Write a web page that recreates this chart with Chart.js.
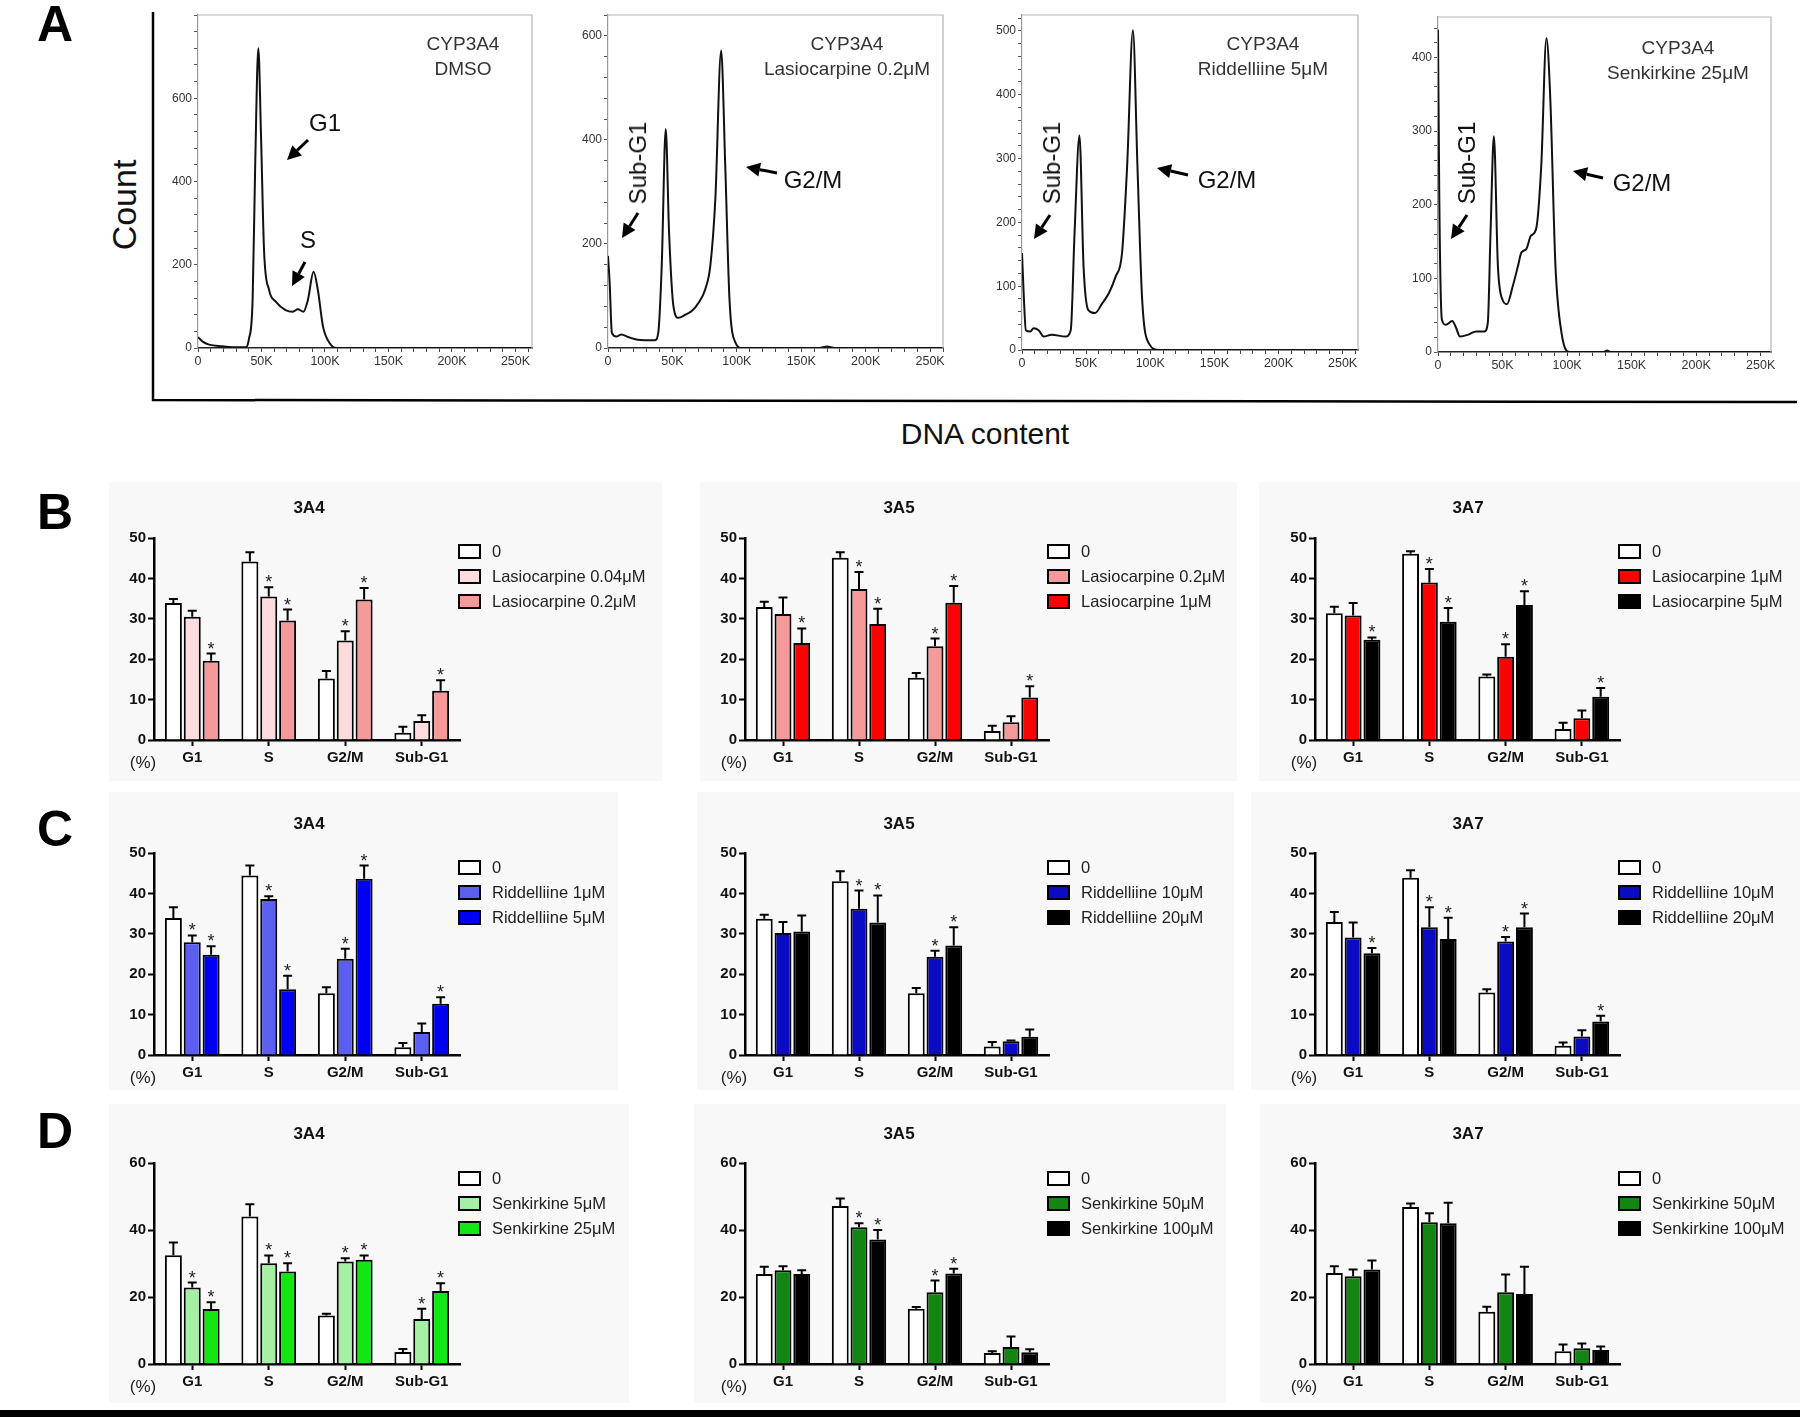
<!DOCTYPE html>
<html>
<head>
<meta charset="utf-8">
<script src="https://cdn.jsdelivr.net/npm/chart.js@4.4.0/dist/chart.umd.min.js"></script>
<style>
  body { margin: 0; background: #fff; }
  #fig { position: relative; width: 1800px; height: 1417px; overflow: hidden; font-family: Arial, "Liberation Sans", sans-serif; color: #111; }
  canvas { position: absolute; }
  .txt { position: absolute; white-space: nowrap; transform: translate(-50%, -50%); line-height: 1; }
  .bg { position: absolute; background: #f8f8f8; }
  .lbox { position: absolute; width: 19px; height: 11px; border: 2px solid #000; }
  .ltxt { position: absolute; white-space: nowrap; font-size: 16.5px; color: #222; transform: translateY(-50%); line-height: 1; }
</style>
</head>
<body>
<div id="fig">
  <div class="bg" style="left:109px;top:482px;width:553px;height:299px"></div>
  <div class="bg" style="left:700px;top:482px;width:537px;height:299px"></div>
  <div class="bg" style="left:1259px;top:482px;width:541px;height:299px"></div>
  <div class="bg" style="left:109px;top:792px;width:509px;height:298px"></div>
  <div class="bg" style="left:697px;top:792px;width:537px;height:298px"></div>
  <div class="bg" style="left:1251px;top:792px;width:549px;height:298px"></div>
  <div class="bg" style="left:109px;top:1104px;width:520px;height:299px"></div>
  <div class="bg" style="left:694px;top:1104px;width:532px;height:299px"></div>
  <div class="bg" style="left:1260px;top:1104px;width:540px;height:299px"></div>
  <svg id="overlay" width="1800" height="1417" style="position:absolute;left:0;top:0"></svg>
  <div style="position:absolute;left:0;top:1410px;width:1800px;height:7px;background:#000"></div>
</div>
<script>
// PANEL A: flow cytometry histograms (DNA content in K, count)
const dmsoK = [0, 3.4, 8.7, 19, 27, 37.7, 40, 43, 45, 47.5, 49.6, 52, 56, 61.4, 69, 74.6, 78.6, 83, 86.5, 91, 94.4, 98.4, 103.6, 109, 263];
const dmsoCount = [26, 16, 8, 4, 2, 2, 20, 115, 433, 720, 513, 235, 139, 111, 91, 87, 93, 87, 115, 183, 139, 52, 12, 0, 0];

const lasioK = [0, 1.3, 3, 6.5, 10.4, 15.6, 23, 36.5, 39, 41.7, 44.8, 47.4, 50.8, 54.7, 60, 65, 70.3, 75.5, 79.4, 83.3, 87.8, 91, 94.3, 99, 104, 164, 170, 176, 260];
const lasioCount = [177, 125, 29, 22, 26, 21, 16, 15, 29, 158, 421, 222, 80, 58, 64, 71, 87, 113, 158, 286, 572, 350, 93, 10, 0, 0, 3, 0, 0];

const riddK = [0, 1.3, 3, 6.5, 9, 13, 17, 23, 34, 38, 41, 44.8, 48, 51.6, 57, 62.5, 67.7, 73, 78, 82, 86.5, 90, 93.7, 99, 107, 262];
const riddCount = [152, 89, 31, 29, 34, 31, 21, 24, 21, 31, 184, 336, 131, 63, 58, 73, 89, 115, 152, 289, 501, 289, 79, 10, 0, 0];

const senkK = [0, 1, 3, 6, 11, 14, 17, 24, 29.6, 36, 38.6, 40.7, 43.3, 46.4, 50, 53.4, 58, 62, 64.6, 68.5, 72, 76, 80, 84, 87, 91, 95.7, 102, 128, 131, 134, 258];
const senkCount = [438, 208, 44, 37, 42, 33, 21, 24, 28, 28, 40, 162, 293, 117, 71, 65, 90, 117, 135, 140, 158, 167, 253, 426, 344, 117, 26, 0, 0, 2, 0, 0];

// PANELS B-D: cell cycle phase (%), series order = [0, low dose, high dose]
const phases = ["G1", "S", "G2/M", "Sub-G1"];

const lasio3A4Mean = [[33.9, 44.2, 15.2, 1.8], [30.5, 35.5, 24.6, 4.7], [19.6, 29.6, 34.8, 12.2]];
const lasio3A4Err  = [[1.0, 2.3, 1.9, 1.5], [1.5, 2.3, 2.3, 1.4], [1.8, 2.7, 2.8, 2.6]];
const lasio3A4Sig  = [[0, 0, 0, 0], [0, 1, 1, 0], [1, 1, 1, 1]];
const lasio3A4Labels = ["0", "Lasiocarpine 0.04μM", "Lasiocarpine 0.2μM"];

const lasio3A5Mean = [[32.9, 45.1, 15.4, 2.2], [31.2, 37.4, 23.2, 4.4], [24.0, 28.7, 34.0, 10.5]];
const lasio3A5Err  = [[1.3, 1.4, 1.2, 1.3], [4.1, 4.2, 1.9, 1.5], [3.6, 3.8, 4.1, 2.8]];
const lasio3A5Sig  = [[0, 0, 0, 0], [0, 1, 1, 0], [1, 1, 1, 1]];
const lasio3A5Labels = ["0", "Lasiocarpine 0.2μM", "Lasiocarpine 1μM"];

const lasio3A7Mean = [[31.4, 46.1, 15.7, 2.7], [30.8, 39.0, 20.6, 5.4], [24.8, 29.3, 33.4, 10.7]];
const lasio3A7Err  = [[1.6, 0.6, 0.5, 1.6], [3.1, 3.3, 3.1, 1.9], [0.6, 3.4, 3.4, 2.2]];
const lasio3A7Sig  = [[0, 0, 0, 0], [0, 1, 1, 0], [1, 1, 1, 1]];
const lasio3A7Labels = ["0", "Lasiocarpine 1μM", "Lasiocarpine 5μM"];

const ridd3A4Mean = [[33.9, 44.4, 15.3, 1.9], [27.9, 38.6, 23.8, 5.7], [24.8, 16.3, 43.6, 12.7]];
const ridd3A4Err  = [[2.7, 2.5, 1.5, 1.1], [1.7, 0.7, 2.5, 2.1], [2.1, 3.3, 3.3, 1.6]];
const ridd3A4Sig  = [[0, 0, 0, 0], [1, 1, 1, 0], [1, 1, 1, 1]];
const ridd3A4Labels = ["0", "Riddelliine 1μM", "Riddelliine 5μM"];

const ridd3A5Mean = [[33.7, 43.0, 15.3, 2.1], [30.2, 36.2, 24.3, 3.4], [30.6, 32.8, 27.1, 4.5]];
const ridd3A5Err  = [[1.0, 2.5, 1.3, 1.1], [2.7, 4.5, 1.5, 0.2], [3.9, 6.7, 4.5, 1.8]];
const ridd3A5Sig  = [[0, 0, 0, 0], [0, 1, 1, 0], [0, 1, 1, 0]];
const ridd3A5Labels = ["0", "Riddelliine 10μM", "Riddelliine 20μM"];

const ridd3A7Mean = [[32.9, 43.9, 15.5, 2.3], [29.1, 31.6, 28.1, 4.6], [25.2, 28.7, 31.6, 8.3]];
const ridd3A7Err  = [[2.5, 1.8, 0.8, 0.8], [3.7, 5.0, 1.1, 1.5], [1.3, 5.3, 3.4, 1.4]];
const ridd3A7Sig  = [[0, 0, 0, 0], [0, 1, 1, 0], [1, 1, 1, 1]];
const ridd3A7Labels = ["0", "Riddelliine 10μM", "Riddelliine 20μM"];

const senk3A4Mean = [[32.5, 44.0, 14.5, 3.6], [22.8, 30.1, 30.6, 13.4], [16.4, 27.6, 31.1, 21.8]];
const senk3A4Err  = [[3.8, 3.7, 0.5, 0.9], [1.5, 2.3, 1.0, 3.1], [2.0, 2.5, 1.3, 2.3]];
const senk3A4Sig  = [[0, 0, 0, 0], [1, 1, 1, 1], [1, 1, 1, 1]];
const senk3A4Labels = ["0", "Senkirkine 5μM", "Senkirkine 25μM"];

const senk3A5Mean = [[26.9, 47.2, 16.5, 3.3], [28.0, 40.8, 21.4, 5.1], [26.9, 37.2, 27.0, 3.5]];
const senk3A5Err  = [[2.1, 2.2, 0.5, 0.5], [1.2, 1.2, 3.5, 3.1], [1.1, 2.8, 1.4, 0.9]];
const senk3A5Sig  = [[0, 0, 0, 0], [0, 1, 1, 0], [0, 1, 1, 0]];
const senk3A5Labels = ["0", "Senkirkine 50μM", "Senkirkine 100μM"];

const senk3A7Mean = [[27.2, 46.9, 15.6, 3.8], [26.2, 42.3, 21.4, 4.7], [28.2, 42.0, 20.9, 4.2]];
const senk3A7Err  = [[2.0, 1.0, 1.5, 2.0], [2.0, 2.7, 5.3, 1.4], [2.7, 6.1, 8.1, 1.0]];
const senk3A7Sig  = [[0, 0, 0, 0], [0, 0, 0, 0], [0, 0, 0, 0]];
const senk3A7Labels = ["0", "Senkirkine 50μM", "Senkirkine 100μM"];

const fig = document.getElementById("fig");
const svg = document.getElementById("overlay");
const FONT = "Arial, 'Liberation Sans', sans-serif";

// HELPERS
function mount(area, m) {
  const c = document.createElement("canvas");
  const w = Math.round(area[2] - area[0] + m.l + m.r);
  const h = Math.round(area[3] - area[1] + m.t + m.b);
  c.width = w; c.height = h;
  c.style.left = (area[0] - m.l) + "px";
  c.style.top = (area[1] - m.t) + "px";
  c.style.width = w + "px"; c.style.height = h + "px";
  fig.appendChild(c);
  return c;
}

function addText(str, x, y, css, rotate) {
  const d = document.createElement("div");
  d.className = "txt";
  d.textContent = str;
  d.style.cssText += css;
  d.style.left = x + "px"; d.style.top = y + "px";
  if (rotate) d.style.transform = "translate(-50%,-50%) rotate(-90deg)";
  fig.appendChild(d);
}

function svgEl(tag, attrs) {
  const e = document.createElementNS("http://www.w3.org/2000/svg", tag);
  for (const k in attrs) e.setAttribute(k, attrs[k]);
  svg.appendChild(e);
}

function arrow(x1, y1, x2, y2) {
  const ang = Math.atan2(y2 - y1, x2 - x1);
  const L = 14, W = 7;
  const bx = x2 - L * Math.cos(ang), by = y2 - L * Math.sin(ang);
  svgEl("line", { x1, y1, x2: bx, y2: by, stroke: "#000", "stroke-width": 3 });
  const px = -Math.sin(ang) * W, py = Math.cos(ang) * W;
  svgEl("polygon", { points: `${x2},${y2} ${bx + px},${by + py} ${bx - px},${by - py}`, fill: "#000" });
}

const frame = {
  id: "frame",
  afterDraw(chart) {
    const { ctx, chartArea: a } = chart;
    ctx.save();
    ctx.strokeStyle = "#b5b5b5";
    ctx.lineWidth = 1.2;
    ctx.beginPath();
    ctx.moveTo(a.left, a.top); ctx.lineTo(a.right, a.top); ctx.lineTo(a.right, a.bottom);
    ctx.stroke();
    ctx.restore();
  }
};

// HISTOGRAMS
function histChart(area, xs, ys, yMax, yStep, yLabelStep, xMax) {
  const m = { l: 36, r: 18, t: 10, b: 26 };
  const c = mount(area, m);
  new Chart(c, {
    type: "line",
    data: { datasets: [{ data: xs.map((x, i) => ({ x, y: ys[i] })), borderColor: "#111", borderWidth: 2, pointRadius: 0, cubicInterpolationMode: "monotone", fill: false }] },
    options: {
      responsive: false, animation: false,
      layout: { padding: { top: m.t, right: m.r, left: 0, bottom: 0 } },
      plugins: { legend: { display: false }, tooltip: { enabled: false } },
      scales: {
        x: {
          type: "linear", min: 0, max: xMax,
          afterFit: s => { s.height = m.b; },
          ticks: { stepSize: 10, autoSkip: false, includeBounds: false, maxRotation: 0, padding: 2, color: "#333", font: { family: FONT, size: 12.5 },
            callback: v => v % 50 === 0 ? (v === 0 ? "0" : v + "K") : "" },
          grid: { drawOnChartArea: false, tickLength: 4, tickColor: "#444" },
          border: { color: "#222", width: 1.5 }
        },
        y: {
          min: 0, max: yMax,
          afterFit: s => { s.width = m.l; },
          ticks: { stepSize: yStep, autoSkip: false, includeBounds: false, padding: 2, color: "#333", font: { family: FONT, size: 12 },
            callback: v => (v % yLabelStep === 0 && v < yMax) ? v : "" },
          grid: { drawOnChartArea: false, tickLength: 4, tickColor: "#555" },
          border: { color: "#999", width: 1.2 }
        }
      }
    },
    plugins: [frame]
  });
}

histChart([198, 15, 532, 348], dmsoK, dmsoCount, 800, 40, 200, 263);
histChart([608, 15, 943, 348], lasioK, lasioCount, 640, 40, 200, 260);
histChart([1022, 15, 1358, 350], riddK, riddCount, 525, 20, 100, 262);
histChart([1438, 17, 1771, 352], senkK, senkCount, 455, 20, 100, 258);

// BAR CHARTS
const errorBars = {
  id: "errorBars",
  afterDatasetsDraw(chart) {
    const { ctx, scales: { y } } = chart;
    ctx.save();
    ctx.strokeStyle = "#000";
    ctx.fillStyle = "#222";
    ctx.lineWidth = 2;
    ctx.font = "18px " + FONT;
    ctx.textAlign = "center";
    ctx.textBaseline = "alphabetic";
    chart.data.datasets.forEach((ds, i) => {
      chart.getDatasetMeta(i).data.forEach((bar, j) => {
        const top = y.getPixelForValue(ds.data[j] + ds.errors[j]);
        ctx.beginPath();
        ctx.moveTo(bar.x, bar.y); ctx.lineTo(bar.x, top);
        ctx.moveTo(bar.x - 4.5, top); ctx.lineTo(bar.x + 4.5, top);
        ctx.stroke();
        if (ds.sig[j]) ctx.fillText("*", bar.x, top + 1);
      });
    });
    ctx.restore();
  }
};

function barChart(area, yMax, yStep, means, errs, sigs, colors) {
  const m = { l: 40, r: 10, t: 30, b: 32 };
  const c = mount(area, m);
  new Chart(c, {
    type: "bar",
    data: {
      labels: phases,
      datasets: means.map((d, i) => ({
        data: d, errors: errs[i], sig: sigs[i],
        backgroundColor: colors[i], borderColor: "#000", borderWidth: 2,
        categoryPercentage: 0.74, barPercentage: 0.9
      }))
    },
    options: {
      responsive: false, animation: false,
      layout: { padding: { top: m.t, right: m.r, left: 0, bottom: 0 } },
      plugins: { legend: { display: false }, tooltip: { enabled: false } },
      scales: {
        x: {
          afterFit: s => { s.height = m.b; },
          ticks: { color: "#111", padding: 3, maxRotation: 0, font: { family: FONT, size: 15, weight: "bold" } },
          grid: { offset: false, drawOnChartArea: false, tickLength: 6, tickWidth: 2, tickColor: "#000" },
          border: { color: "#000", width: 2.5 }
        },
        y: {
          min: 0, max: yMax,
          afterFit: s => { s.width = m.l; },
          ticks: { stepSize: yStep, color: "#111", padding: 2, font: { family: FONT, size: 15, weight: "bold" } },
          grid: { drawOnChartArea: false, tickLength: 6, tickWidth: 2, tickColor: "#000" },
          border: { color: "#000", width: 2.5 }
        }
      }
    },
    plugins: [errorBars]
  });
}

function legend(x, y, labels, colors) {
  labels.forEach((lab, i) => {
    const yy = y + i * 25;
    const b = document.createElement("div");
    b.className = "lbox";
    b.style.left = x + "px"; b.style.top = (yy - 7) + "px"; b.style.background = colors[i];
    fig.appendChild(b);
    const t = document.createElement("div");
    t.className = "ltxt";
    t.textContent = lab;
    t.style.left = (x + 34) + "px"; t.style.top = yy + "px";
    fig.appendChild(t);
  });
}

function panel(col, row, title, yMax, yStep, means, errs, sigs, labels, colors) {
  const area = [col.x0, row.y0, col.x1, row.y1];
  barChart(area, yMax, yStep, means, errs, sigs, colors);
  addText(title, col.t, row.title, "font-weight:bold;font-size:17px;");
  addText("(%)", col.x0 - 11, row.y1 + 22, "font-size:17px;color:#222;");
  legend(col.lx, row.ly, labels, colors);
}

const cols = [
  { x0: 154, x1: 460, t: 309, lx: 458 },
  { x0: 745, x1: 1049, t: 899, lx: 1047 },
  { x0: 1315, x1: 1620, t: 1468, lx: 1618 }
];
const rows = [
  { y0: 538, y1: 740, title: 507, ly: 551 },
  { y0: 853, y1: 1055, title: 823, ly: 867 },
  { y0: 1163, y1: 1364, title: 1133, ly: 1178 }
];

panel(cols[0], rows[0], "3A4", 50, 10, lasio3A4Mean, lasio3A4Err, lasio3A4Sig, lasio3A4Labels, ["#ffffff", "#fcdcdc", "#f49a9a"]);
panel(cols[1], rows[0], "3A5", 50, 10, lasio3A5Mean, lasio3A5Err, lasio3A5Sig, lasio3A5Labels, ["#ffffff", "#f49a9a", "#ff0000"]);
panel(cols[2], rows[0], "3A7", 50, 10, lasio3A7Mean, lasio3A7Err, lasio3A7Sig, lasio3A7Labels, ["#ffffff", "#ff0000", "#000000"]);
panel(cols[0], rows[1], "3A4", 50, 10, ridd3A4Mean, ridd3A4Err, ridd3A4Sig, ridd3A4Labels, ["#ffffff", "#5c5ef0", "#0000f2"]);
panel(cols[1], rows[1], "3A5", 50, 10, ridd3A5Mean, ridd3A5Err, ridd3A5Sig, ridd3A5Labels, ["#ffffff", "#0b0bc4", "#000000"]);
panel(cols[2], rows[1], "3A7", 50, 10, ridd3A7Mean, ridd3A7Err, ridd3A7Sig, ridd3A7Labels, ["#ffffff", "#0b0bc4", "#000000"]);
panel(cols[0], rows[2], "3A4", 60, 20, senk3A4Mean, senk3A4Err, senk3A4Sig, senk3A4Labels, ["#ffffff", "#a6f0a6", "#14e614"]);
panel(cols[1], rows[2], "3A5", 60, 20, senk3A5Mean, senk3A5Err, senk3A5Sig, senk3A5Labels, ["#ffffff", "#138513", "#000000"]);
panel(cols[2], rows[2], "3A7", 60, 20, senk3A7Mean, senk3A7Err, senk3A7Sig, senk3A7Labels, ["#ffffff", "#138513", "#000000"]);

// PANEL A TEXT, AXES, ARROWS
svgEl("polyline", { points: "153,12 153,400 1797,402", fill: "none", stroke: "#000", "stroke-width": 2.5 });
addText("Count", 124, 205, "font-size:34px;", true);
addText("DNA content", 985, 434, "font-size:30px;");

const H = "font-size:19px;color:#333;";
const BIG = "font-size:24px;";
addText("CYP3A4", 463, 43, H); addText("DMSO", 463, 68, H);
addText("G1", 325, 123, BIG); addText("S", 308, 240, BIG);
arrow(308, 140, 287, 160); arrow(305, 262, 292, 286);

addText("CYP3A4", 847, 43, H); addText("Lasiocarpine 0.2μM", 847, 68, H);
addText("Sub-G1", 638, 163, BIG, true); addText("G2/M", 813, 180, BIG);
arrow(638, 213, 622, 238); arrow(777, 173, 746, 167);

addText("CYP3A4", 1263, 43, H); addText("Riddelliine 5μM", 1263, 68, H);
addText("Sub-G1", 1052, 163, BIG, true); addText("G2/M", 1227, 180, BIG);
arrow(1050, 215, 1034, 239); arrow(1188, 175, 1157, 168);

addText("CYP3A4", 1678, 47, H); addText("Senkirkine 25μM", 1678, 72, H);
addText("Sub-G1", 1467, 163, BIG, true); addText("G2/M", 1642, 183, BIG);
arrow(1467, 215, 1451, 239); arrow(1603, 178, 1573, 171);

// PANEL LETTERS
const LET = "font-weight:bold;font-size:50px;color:#000;";
addText("A", 55, 24, LET);
addText("B", 55, 512, LET);
addText("C", 55, 829, LET);
addText("D", 55, 1131, LET);
</script>
</body>
</html>
